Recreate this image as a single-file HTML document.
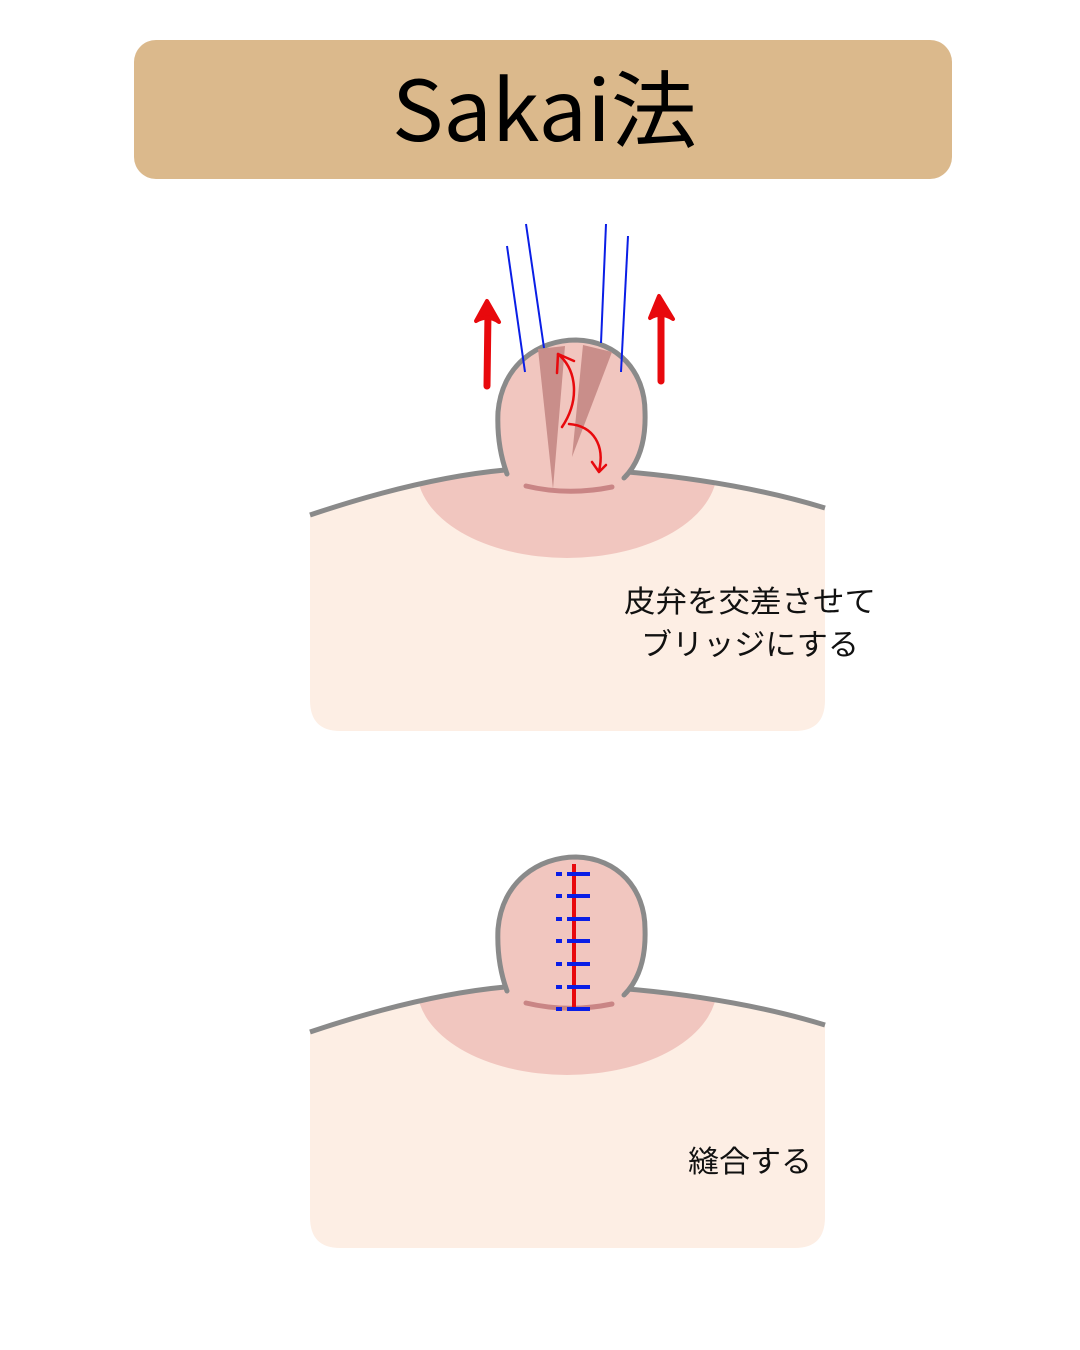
<!DOCTYPE html>
<html><head><meta charset="utf-8">
<style>html,body{margin:0;padding:0;background:#fff;}svg{display:block;}</style>
</head><body>
<svg width="1080" height="1350" viewBox="0 0 1080 1350" xmlns="http://www.w3.org/2000/svg">
<defs>
  <clipPath id="bodyclip">
    <path d="M310,515 Q420,478 505,470 L628,472 Q740,482 825,508 L825,700 Q825,731 795,731 L340,731 Q310,731 310,700 Z"/>
  </clipPath>
  <g id="breast">
    <path d="M310,515 Q420,478 505,470 L628,472 Q740,482 825,508 L825,700 Q825,731 795,731 L340,731 Q310,731 310,700 Z" fill="#fdeee4"/>
    <g clip-path="url(#bodyclip)">
      <ellipse cx="567" cy="470" rx="150" ry="88" fill="#f1c6bf"/>
    </g>
    <path d="M505,472 C500,455 497,435 498,412 C502,365 538,340 576,340 C618,341 645,372 645,412 C646,440 640,462 624,478 L600,478 L540,478 Z" fill="#f1c6bf"/>
    <path d="M526,486 Q568,496 612,487" fill="none" stroke="#c98585" stroke-width="5" stroke-linecap="round"/>
    <path d="M310,515 Q420,478 505,470" fill="none" stroke="#8a8a8a" stroke-width="5"/>
    <path d="M628,472 Q740,482 825,508" fill="none" stroke="#8a8a8a" stroke-width="5"/>
    <path d="M507,474 C500,455 497,435 498,412 C502,365 538,340 576,340 C618,341 645,372 645,412 C646,440 640,462 624,478" fill="none" stroke="#8a8a8a" stroke-width="5" stroke-linecap="round"/>
  </g>
</defs>

<rect x="134" y="40" width="818" height="139" rx="22" fill="#dbb98c"/>
<text x="392" y="141" font-family="'Noto Sans CJK JP','Liberation Sans',sans-serif" font-size="84" textLength="305" lengthAdjust="spacingAndGlyphs" fill="#000">Sakai法</text>

<!-- Panel 1 -->
<use href="#breast"/>
<polygon points="538,349 565,346 553,489" fill="#c98e8a"/>
<polygon points="583,345 612,352 572,457" fill="#c98e8a"/>
<line x1="507" y1="246" x2="525" y2="372" stroke="#0a1ee6" stroke-width="2"/>
<line x1="526" y1="224" x2="544" y2="348" stroke="#0a1ee6" stroke-width="2"/>
<line x1="606" y1="224" x2="601" y2="343" stroke="#0a1ee6" stroke-width="2"/>
<line x1="628" y1="236" x2="621" y2="372" stroke="#0a1ee6" stroke-width="2"/>
<!-- red arrows -->
<path d="M487,386 L488,312" stroke="#e8090d" stroke-width="7" stroke-linecap="round" fill="none"/>
<path d="M476,321 L487,301 L499,322 Q488,314 476,321 Z" fill="#e8090d" stroke="#e8090d" stroke-width="4" stroke-linejoin="round"/>
<path d="M661,381 L661,308" stroke="#e8090d" stroke-width="7" stroke-linecap="round" fill="none"/>
<path d="M650,318 L659,296 L673,319 Q661,311 650,318 Z" fill="#e8090d" stroke="#e8090d" stroke-width="4" stroke-linejoin="round"/>
<path d="M562,427 C580,400 577,370 558,354" stroke="#e8090d" stroke-width="2.5" fill="none" stroke-linecap="round"/>
<path d="M574,361 L558,354 L557,373" stroke="#e8090d" stroke-width="2.5" fill="none" stroke-linecap="round" stroke-linejoin="round"/>
<path d="M569,424 C594,426 605,446 599,471" stroke="#e8090d" stroke-width="2.5" fill="none" stroke-linecap="round"/>
<path d="M592,462 L599,472 L606,465" stroke="#e8090d" stroke-width="2.5" fill="none" stroke-linecap="round" stroke-linejoin="round"/>
<text x="624" y="612" font-family="'Liberation Sans','Noto Sans CJK JP',sans-serif" font-size="30" textLength="252" lengthAdjust="spacingAndGlyphs" fill="#111">皮弁を交差させて</text>
<text x="641" y="655" font-family="'Liberation Sans','Noto Sans CJK JP',sans-serif" font-size="30" textLength="218" lengthAdjust="spacingAndGlyphs" fill="#111">ブリッジにする</text>

<!-- Panel 2 -->
<use href="#breast" transform="translate(0,517)"/>
<line x1="574" y1="864" x2="574" y2="1010" stroke="#e8090d" stroke-width="4"/>
<g stroke="#0a1ee6" stroke-width="4">
  <line x1="556" y1="874" x2="562" y2="874"/><line x1="567" y1="874" x2="590" y2="874"/>
  <line x1="556" y1="896" x2="562" y2="896"/><line x1="567" y1="896" x2="590" y2="896"/>
  <line x1="556" y1="919" x2="562" y2="919"/><line x1="567" y1="919" x2="590" y2="919"/>
  <line x1="556" y1="941" x2="562" y2="941"/><line x1="567" y1="941" x2="590" y2="941"/>
  <line x1="556" y1="964" x2="562" y2="964"/><line x1="567" y1="964" x2="590" y2="964"/>
  <line x1="556" y1="987" x2="562" y2="987"/><line x1="567" y1="987" x2="590" y2="987"/>
  <line x1="556" y1="1009" x2="562" y2="1009"/><line x1="567" y1="1009" x2="590" y2="1009"/>
</g>
<text x="688" y="1172" font-family="'Liberation Sans','Noto Sans CJK JP',sans-serif" font-size="30" textLength="124" lengthAdjust="spacingAndGlyphs" fill="#111">縫合する</text>
</svg>
</body></html>
